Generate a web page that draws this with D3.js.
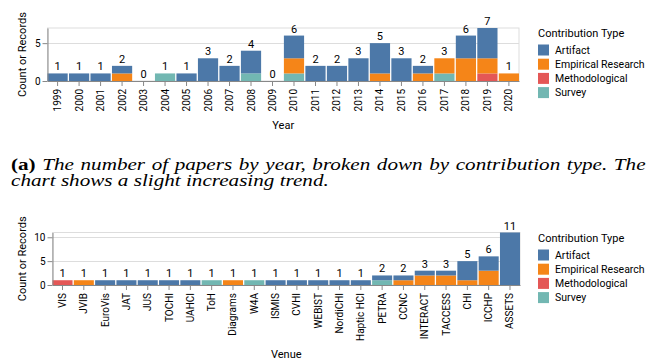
<!DOCTYPE html>
<html>
<head>
<meta charset="utf-8">
<script src="https://cdn.jsdelivr.net/npm/d3@7"></script>
<style>
  html, body { margin: 0; padding: 0; background: #fff; }
  svg { display: block; }
</style>
</head>
<body>
<svg id="chart" width="648" height="363"></svg>
<script>
// Contribution types, in stacking order from bottom to top
const types = ["Survey", "Methodological", "Empirical Research", "Artifact"];
const legendTypes = ["Artifact", "Empirical Research", "Methodological", "Survey"];
const typeColors = ["#72b7b2", "#e45756", "#f58518", "#4c78a8"];

// Papers per year
const years = ["1999","2000","2001","2002","2003","2004","2005","2006","2007","2008","2009",
               "2010","2011","2012","2013","2014","2015","2016","2017","2018","2019","2020"];
const yearArtifact    = [1,1,1,1,0,0,1,3,2,3,0,3,2,2,3,4,3,1,0,3,4,0];
const yearEmpirical   = [0,0,0,1,0,0,0,0,0,0,0,2,0,0,0,1,0,1,2,3,2,1];
const yearMethodical  = [0,0,0,0,0,0,0,0,0,0,0,0,0,0,0,0,0,0,0,0,1,0];
const yearSurvey      = [0,0,0,0,0,1,0,0,0,1,0,1,0,0,0,0,0,0,1,0,0,0];
const yearTicks = [0, 5];

// Papers per venue
const venues = ["VIS","JVIB","EuroVis","JAT","JUS","TOCHI","UAHCI","ToH","Diagrams","W4A","ISMIS",
                "CVHI","WEBIST","NordiCHI","Haptic HCI","PETRA","CCNC","INTERACT","TACCESS","CHI","ICCHP","ASSETS"];
const venueArtifact   = [0,0,1,1,1,1,1,0,0,0,1,1,1,1,1,1,1,1,1,4,3,11];
const venueEmpirical  = [0,1,0,0,0,0,0,0,1,0,0,0,0,0,0,0,1,2,2,1,3,0];
const venueMethodical = [1,0,0,0,0,0,0,0,0,0,0,0,0,0,0,0,0,0,0,0,0,0];
const venueSurvey     = [0,0,0,0,0,0,0,1,0,1,0,0,0,0,0,1,0,0,0,0,0,0];
const venueTicks = [0, 5, 10];

// Caption text
const captionLabel = "(a)";
const captionLine1 = "The number of papers by year, broken down by contribution type. The";
const captionLine2 = "chart shows a slight increasing trend.";

const SANS = "Roboto, 'Liberation Sans', Arial, sans-serif";
const SERIF = "'Liberation Serif', 'Times New Roman', serif";

const svg = d3.select("#chart");
const color = d3.scaleOrdinal().domain(types).range(typeColors);

function drawChart(opt) {
  const { cats, series, yMax, ticks, left, right, top, bottom, xTitle, xTitleY } = opt;
  const rows = cats.map((c, i) => {
    const r = { cat: c };
    types.forEach((t, k) => r[t] = series[k][i]);
    r.total = types.reduce((s, t) => s + r[t], 0);
    return r;
  });
  const stacked = d3.stack().keys(types)(rows);

  const x = d3.scaleBand().domain(cats).range([left, right]).paddingInner(0.06).paddingOuter(0);
  const y = d3.scaleLinear().domain([0, yMax]).range([bottom, top]);

  const g = svg.append("g");

  // view frame and gridlines
  g.append("rect")
    .attr("x", left).attr("y", top)
    .attr("width", right - left).attr("height", bottom - top)
    .attr("fill", "none").attr("stroke", "#ddd");
  g.append("g").selectAll("line").data(ticks).join("line")
    .attr("x1", left).attr("x2", right)
    .attr("y1", d => Math.round(y(d)) + 0.5).attr("y2", d => Math.round(y(d)) + 0.5)
    .attr("stroke", "#ddd");

  // stacked bars
  g.append("g").selectAll("g").data(stacked).join("g")
    .attr("fill", d => color(d.key))
    .selectAll("rect").data(d => d.filter(p => p[1] > p[0])).join("rect")
      .attr("x", p => x(p.data.cat))
      .attr("width", x.bandwidth())
      .attr("y", p => y(p[1]))
      .attr("height", p => y(p[0]) - y(p[1]));

  // totals above bars
  g.append("g").selectAll("text").data(rows).join("text")
    .attr("x", d => x(d.cat) + x.bandwidth() / 2)
    .attr("y", d => y(d.total) - 3)
    .attr("text-anchor", "middle")
    .style("font-family", SANS).style("font-size", "11px")
    .attr("fill", "#000")
    .text(d => d.total);

  // x axis
  const xa = g.append("g").attr("transform", `translate(0,${bottom})`)
    .call(d3.axisBottom(x).tickSize(5).tickPadding(3).tickSizeOuter(0));
  xa.select(".domain").attr("stroke", "#888");
  xa.selectAll(".tick line").attr("stroke", "#888");
  xa.selectAll(".tick text")
    .style("font-family", SANS).style("font-size", "10px").attr("fill", "#000")
    .attr("transform", "rotate(-90)")
    .attr("text-anchor", "end")
    .attr("dy", "0.35em")
    .attr("x", -8).attr("y", 0);

  // y axis
  const ya = g.append("g").attr("transform", `translate(${left},0)`)
    .call(d3.axisLeft(y).tickValues(ticks).tickFormat(d3.format("d"))
      .tickSize(5).tickPadding(2).tickSizeOuter(0));
  ya.select(".domain").attr("stroke", "#888");
  ya.selectAll(".tick line").attr("stroke", "#888");
  ya.selectAll(".tick text").style("font-family", SANS).style("font-size", "10px").attr("fill", "#000");

  // axis titles
  g.append("text")
    .attr("x", (left + right) / 2).attr("y", xTitleY)
    .attr("text-anchor", "middle")
    .style("font-family", SANS).style("font-size", "11px").attr("fill", "#000")
    .text(xTitle);
  g.append("text")
    .attr("transform", `translate(22,${(top + bottom) / 2}) rotate(-90)`)
    .attr("text-anchor", "middle").attr("dy", "0.35em")
    .style("font-family", SANS).style("font-size", "11px").attr("fill", "#000")
    .text("Count or Records");

  // legend
  const lg = g.append("g").attr("transform", `translate(538,${opt.legendTop})`);
  lg.append("text").attr("x", 0).attr("y", 0).attr("dy", "0.35em")
    .style("font-family", SANS).style("font-size", "11px").attr("fill", "#000")
    .text("Contribution Type");
  const item = lg.selectAll("g.item").data(legendTypes).join("g")
    .attr("class", "item")
    .attr("transform", (d, i) => `translate(0,${17 + i * 14.2})`);
  item.append("rect").attr("x", 0).attr("y", -5.5).attr("width", 11).attr("height", 11)
    .attr("fill", d => color(d));
  item.append("text").attr("x", 17).attr("y", 0).attr("dy", "0.35em")
    .style("font-family", SANS).style("font-size", "10.5px").attr("fill", "#000")
    .text(d => d);
}

drawChart({
  cats: years,
  series: [yearSurvey, yearMethodical, yearEmpirical, yearArtifact],
  yMax: 7, ticks: yearTicks,
  left: 47.5, right: 519, top: 28, bottom: 81,
  xTitle: "Year", xTitleY: 129, legendTop: 33
});

drawChart({
  cats: venues,
  series: [venueSurvey, venueMethodical, venueEmpirical, venueArtifact],
  yMax: 11, ticks: venueTicks,
  left: 52.5, right: 520, top: 232.5, bottom: 285,
  xTitle: "Venue", xTitleY: 358, legendTop: 238
});

// Caption between the two charts: the text is widened slightly, and the
// first line is justified to the full column width through word spacing.
const capFs = 17, capLeft = 11, colWidth = 635, line2Width = 318;
const inner = svg.append("g").attr("fill", "#000");
const label = inner.append("text").attr("x", 0).attr("y", 170)
  .style("font-family", SERIF).style("font-size", capFs + "px").style("font-weight", "bold")
  .text(captionLabel);
const rest1 = inner.append("text").attr("y", 170)
  .style("font-family", SERIF).style("font-size", capFs + "px").style("font-style", "italic")
  .text(captionLine1);
const line2 = inner.append("text").attr("x", 0).attr("y", 186)
  .style("font-family", SERIF).style("font-size", capFs + "px").style("font-style", "italic")
  .text(captionLine2);

const sx = line2Width / line2.node().getComputedTextLength();
const labelW = label.node().getComputedTextLength();
const baseSpace = 0.25 * capFs;
const natural = labelW + baseSpace + rest1.node().getComputedTextLength();
const gaps = captionLine1.split(" ").length; // spaces in line 1 plus the gap after the label
const extra = Math.max(0, (colWidth / sx - natural) / gaps);
rest1.attr("x", labelW + baseSpace + extra).style("word-spacing", extra + "px");
inner.attr("transform", `translate(${capLeft},0) scale(${sx},1)`);
</script>
</body>
</html>
